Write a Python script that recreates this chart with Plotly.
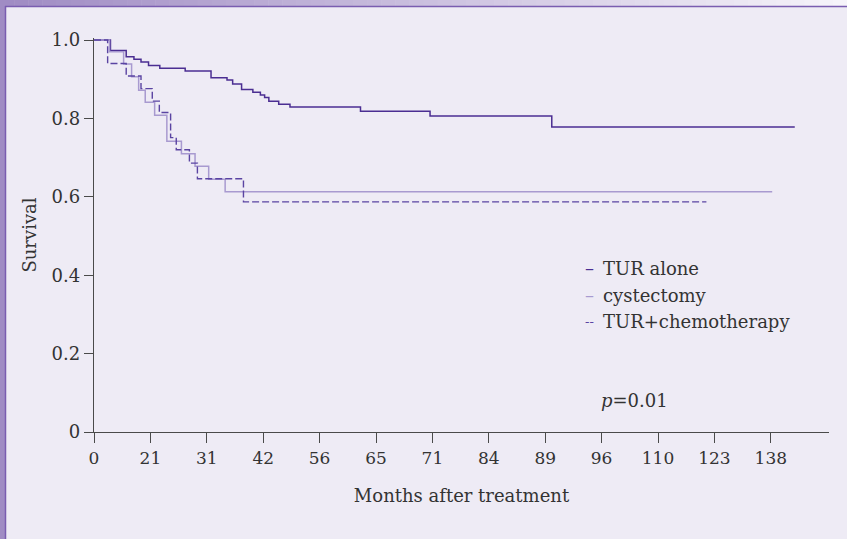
import plotly.graph_objects as go

# ---- data (x in axis units: 12 units per tick interval) ----
tick_vals = [0, 12, 24, 36, 48, 60, 72, 84, 96, 108, 120, 132, 144]
tick_text = ["0", "21", "31", "42", "56", "65", "71", "84", "89", "96", "110", "123", "138"]

tur_t = [0, 3.5, 6.85, 8.5, 10.0, 11.6, 14.0, 19.4, 24.9, 28.3, 29.5, 31.4, 33.8, 35.4,
         36.3, 37.2, 39.3, 41.7, 56.7, 71.5, 97.4, 149.1]
tur_s = [1.0, 0.973, 0.957, 0.951, 0.944, 0.935, 0.928, 0.921, 0.904, 0.898, 0.888, 0.874,
         0.867, 0.860, 0.853, 0.844, 0.836, 0.829, 0.818, 0.806, 0.778, 0.778]

cys_t = [0, 3.3, 6.3, 8.0, 9.5, 10.9, 12.9, 15.5, 18.6, 21.5, 24.4, 27.9, 144.3]
cys_s = [1.0, 0.970, 0.939, 0.906, 0.872, 0.841, 0.808, 0.742, 0.710, 0.678, 0.645, 0.613, 0.613]

chemo_t = [0, 2.9, 6.85, 10.0, 12.4, 13.9, 16.3, 17.5, 20.3, 22.0, 31.8, 130.3]
chemo_s = [1.0, 0.940, 0.908, 0.876, 0.844, 0.815, 0.751, 0.720, 0.686, 0.646, 0.587, 0.587]

series_names = ["TUR alone", "cystectomy", "TUR+chemotherapy"]

# ---- style ----
W, H = 847, 539
ML, MR, MT, MB = 94, 18, 38, 107
PW, PH = W - ML - MR, H - MT - MB
FONT = "DejaVu Serif"
TXT = "#333333"
AX = "#4a4a4a"
C_TUR = "#4B2E92"
C_CYS = "#A89AD0"
C_CHEMO = "#5A44A2"

fig = go.Figure()
fig.add_trace(go.Scatter(x=tur_t, y=tur_s, mode="lines", name=series_names[0],
                         line=dict(color=C_TUR, width=1.5, shape="hv")))
fig.add_trace(go.Scatter(x=cys_t, y=cys_s, mode="lines", name=series_names[1],
                         line=dict(color=C_CYS, width=1.5, shape="hv")))
fig.add_trace(go.Scatter(x=chemo_t, y=chemo_s, mode="lines", name=series_names[2],
                         line=dict(color=C_CHEMO, width=1.4, shape="hv", dash="7px,3px")))

xr = PW / 4.7
yr = PH / 392.0


def px2x(px):
    return (px - ML) / PW


def py2y(py):
    return 1 - (py - MT) / PH


shapes = []
# top gradient band
n = 60
c0 = (0xA0, 0x8C, 0xC4)
c1 = (0xF6, 0xF4, 0xFA)
for i in range(n):
    f = i / (n - 1)
    col = "rgb(%d,%d,%d)" % tuple(int(c0[k] + (c1[k] - c0[k]) * f) for k in range(3))
    shapes.append(dict(type="rect", xref="paper", yref="paper",
                       x0=px2x(W * i / n), x1=px2x(W * (i + 1) / n + 0.5),
                       y0=py2y(0), y1=py2y(6), line=dict(width=0), fillcolor=col,
                       layer="above"))
# left strip
shapes.append(dict(type="rect", xref="paper", yref="paper", x0=px2x(0), x1=px2x(5),
                   y0=py2y(0), y1=py2y(H), line=dict(width=0), fillcolor="#A08CC4",
                   layer="above"))
# border lines
shapes.append(dict(type="line", xref="paper", yref="paper", x0=px2x(5), x1=px2x(W),
                   y0=py2y(6.5), y1=py2y(6.5), line=dict(color="#7A5DB0", width=1.5),
                   layer="above"))
shapes.append(dict(type="line", xref="paper", yref="paper", x0=px2x(5.5), x1=px2x(5.5),
                   y0=py2y(6), y1=py2y(H), line=dict(color="#7A5DB0", width=1.5),
                   layer="above"))

leg_y = [0.4176, 0.3495, 0.2814]
leg_sym = ["–", "–", "--"]
leg_size = [18, 18, 13]
leg_col = [C_TUR, C_CYS, C_CHEMO]
annotations = []
for i in range(3):
    annotations.append(dict(x=106.9, y=leg_y[i], xref="x", yref="y", text=leg_sym[i],
                            showarrow=False, xanchor="right", yanchor="middle",
                            font=dict(family=FONT, size=leg_size[i], color=leg_col[i])))
    annotations.append(dict(x=107.9, y=leg_y[i], xref="x", yref="y", text=series_names[i],
                            showarrow=False, xanchor="left", yanchor="middle",
                            font=dict(family=FONT, size=18, color=TXT)))
annotations.append(dict(x=107.5, y=0.0816, xref="x", yref="y", text="<i>p</i>=0.01",
                        showarrow=False, xanchor="left", yanchor="middle",
                        font=dict(family=FONT, size=18, color=TXT)))

fig.update_layout(
    width=W, height=H, autosize=False,
    margin=dict(l=ML, r=MR, t=MT, b=MB, pad=0),
    paper_bgcolor="#EEEBF5", plot_bgcolor="#EEEBF5",
    showlegend=False,
    font=dict(family=FONT, size=18, color=TXT),
    shapes=shapes, annotations=annotations,
    xaxis=dict(range=[0, xr], tickvals=tick_vals, ticktext=tick_text,
               showgrid=False, zeroline=False, showline=True, linecolor=AX, linewidth=1.3,
               ticks="outside", ticklen=10, tickwidth=1.2, tickcolor=AX,
               tickfont=dict(family=FONT, size=17, color=TXT),
               title=dict(text="Months after treatment", standoff=22,
                          font=dict(family=FONT, size=18, color=TXT))),
    yaxis=dict(range=[0, yr], tickvals=[0, 0.2, 0.4, 0.6, 0.8, 1.0],
               ticktext=["0", "0.2", "0.4", "0.6", "0.8", "1.0"],
               showgrid=False, zeroline=False, showline=True, linecolor=AX, linewidth=1.3,
               ticks="outside", ticklen=9, tickwidth=1.2, tickcolor=AX,
               tickfont=dict(family=FONT, size=18, color=TXT),
               title=dict(text="Survival", standoff=10,
                          font=dict(family=FONT, size=18, color=TXT))),
)

fig.write_html("out.html", config={"displayModeBar": False},
               post_script="document.body.style.margin='0';document.body.style.overflow='hidden';")
